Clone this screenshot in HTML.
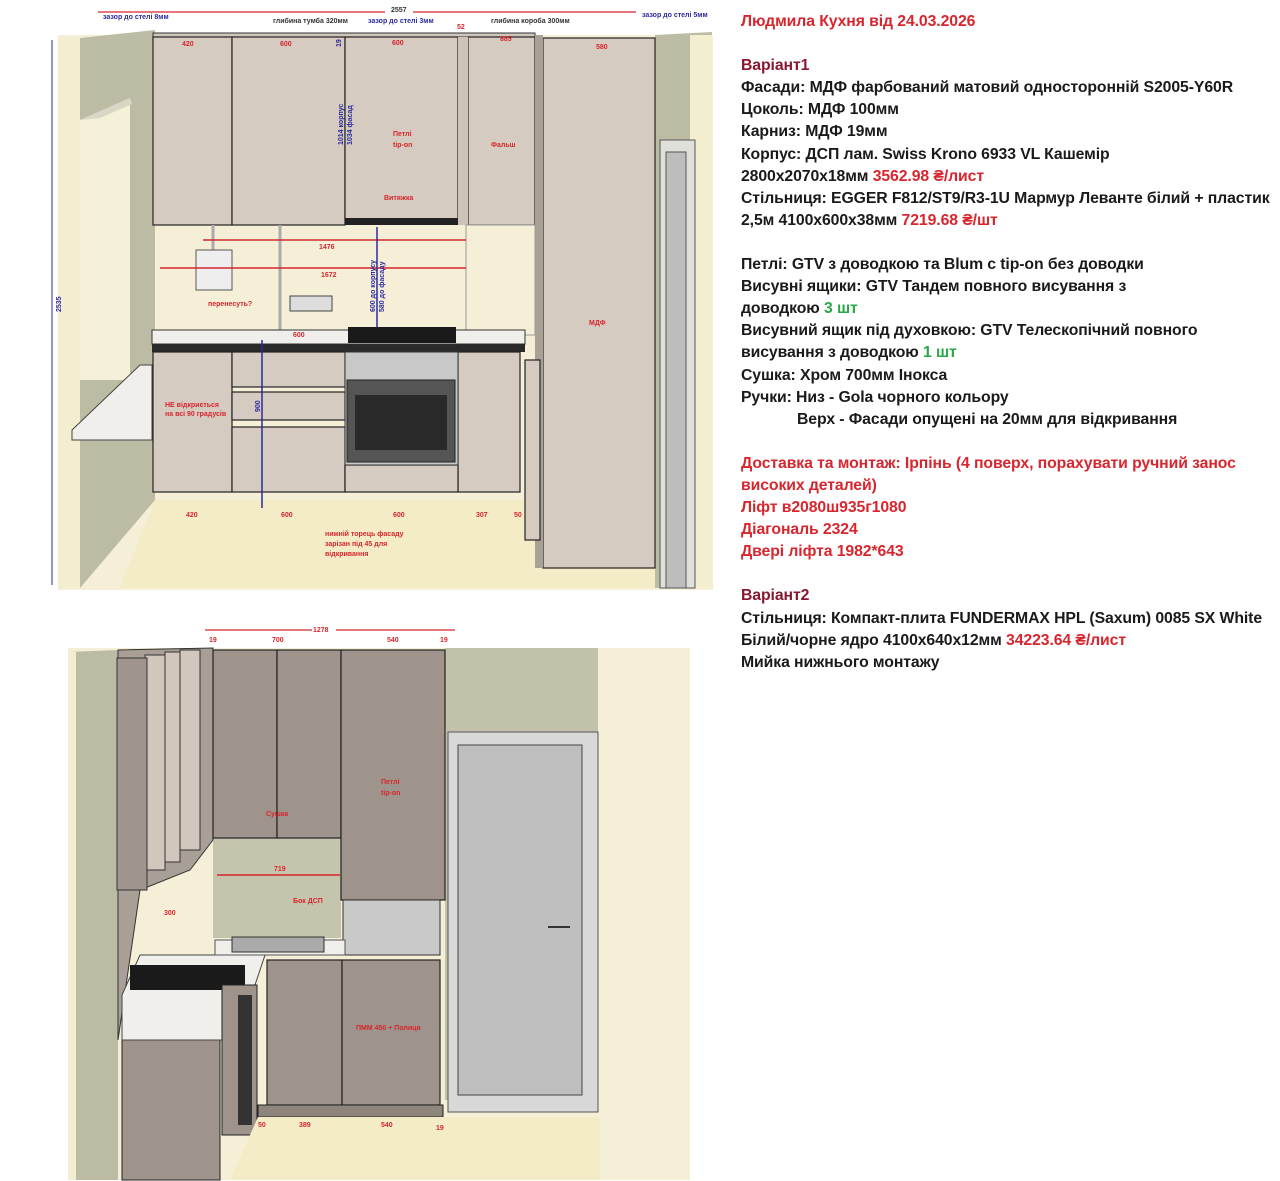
<!DOCTYPE html>
<html><head><meta charset="utf-8"><style>
body{margin:0;background:#fff;width:1280px;height:1181px;overflow:hidden;position:relative;font-family:"Liberation Sans",sans-serif}
#t{position:absolute;left:741px;top:11px;font-weight:bold;font-size:15.8px;line-height:22.1px;color:#1a1a1a;white-space:nowrap;letter-spacing:-0.1px}
.r{color:#d7262e}.d{color:#8a1730}.g{color:#2aa84a}
</style></head><body>
<svg width="730" height="1181" style="position:absolute;left:0;top:0" font-family="Liberation Sans,sans-serif" font-weight="bold">
<rect x="58" y="35" width="655" height="555" fill="#f4efd6"/>
<polygon points="80,38 155,30 155,500 80,588" fill="#bcbca4"/>
<polygon points="58,38 80,38 80,588 58,588" fill="#f3eed0"/>
<polygon points="80,120 130,98 130,380 80,380" fill="#f5f0d8"/>
<polygon points="80,120 130,98 132,104 100,118" fill="#d8d6c4"/>
<rect x="155" y="225" width="385" height="275" fill="#f5efd8"/>
<polygon points="155,500 540,500 540,568 655,568 655,588 120,588" fill="#f3ecc6"/>
<polygon points="655,35 712,32 712,588 655,588" fill="#bcbca4"/>
<rect x="690" y="35" width="22" height="553" fill="#f3eed0"/>
<rect x="660" y="140" width="35" height="448" fill="#e0e0da" stroke="#555"/>
<rect x="666" y="152" width="20" height="436" fill="#bdbdbd" stroke="#555"/>
<rect x="153" y="33" width="382" height="4" fill="#cfc6bc" stroke="#333"/>
<g fill="#d6cbc0" stroke="#222" stroke-width="1.2">
<rect x="153" y="37" width="79" height="188"/>
<rect x="232" y="37" width="113" height="188"/>
<rect x="345" y="37" width="113" height="182"/>
<rect x="468" y="37" width="67" height="188"/>
<rect x="543" y="38" width="112" height="530"/>
</g>
<rect x="345" y="218" width="113" height="7" fill="#222"/>
<rect x="458" y="37" width="10" height="188" fill="#cdc3b8"/>
<rect x="535" y="35" width="8" height="533" fill="#a9a196"/>
<rect x="466" y="225" width="69" height="110" fill="#f5efd8" stroke="#999"/>
<line x1="213" y1="225" x2="213" y2="250" stroke="#aaa" stroke-width="3"/>
<line x1="280" y1="225" x2="280" y2="330" stroke="#aaa" stroke-width="3"/>
<rect x="196" y="250" width="36" height="40" fill="#eee" stroke="#555"/>
<rect x="290" y="296" width="42" height="15" fill="#ddd" stroke="#444"/>
<line x1="203" y1="240" x2="466" y2="240" stroke="#d7262e" stroke-width="1.5"/>
<line x1="160" y1="268" x2="466" y2="268" stroke="#d7262e" stroke-width="1.5"/>
<line x1="377" y1="227" x2="377" y2="330" stroke="#2a2aa0" stroke-width="1.5"/>
<rect x="152" y="330" width="373" height="14" fill="#f0efec" stroke="#333"/>
<rect x="152" y="344" width="373" height="8" fill="#2a2a2a"/>
<rect x="348" y="327" width="108" height="16" fill="#1a1a1a"/>
<polygon points="72,430 140,365 152,365 152,440 72,440" fill="#f0efec" stroke="#444"/>
<g fill="#d6cbc0" stroke="#222" stroke-width="1.2">
<rect x="153" y="352" width="79" height="140"/>
<rect x="232" y="352" width="113" height="35"/>
<rect x="232" y="392" width="113" height="28"/>
<rect x="232" y="427" width="113" height="65"/>
<rect x="458" y="352" width="62" height="140"/>
<rect x="345" y="465" width="113" height="27"/>
<rect x="525" y="360" width="15" height="180"/>
</g>
<rect x="345" y="352" width="113" height="113" fill="#c8c8c8" stroke="#333"/>
<rect x="347" y="380" width="108" height="82" fill="#555" stroke="#222"/>
<rect x="355" y="395" width="92" height="55" fill="#2a2a2a"/>
<line x1="262" y1="340" x2="262" y2="508" stroke="#2a2aa0" stroke-width="1.5"/>
<line x1="98" y1="12" x2="636" y2="12" stroke="#d7262e" stroke-width="1.2"/>
<rect x="385" y="5" width="28" height="12" fill="#fff"/>
<line x1="52" y1="40" x2="52" y2="585" stroke="#2a2aa0" stroke-width="1"/>
<g font-size="7" fill="#2a2aa0">
<text x="103" y="19">зазор до стелі 8мм</text><text x="368" y="23">зазор до стелі 3мм</text><text x="642" y="17">зазор до стелі 5мм</text>
<text x="61" y="312" transform="rotate(-90 61 312)">2535</text>
<text x="343" y="145" transform="rotate(-90 343 145)">1014 корпус</text><text x="352" y="145" transform="rotate(-90 352 145)">1034 фасад</text>
<text x="341" y="47" transform="rotate(-90 341 47)">19</text>
<text x="375" y="312" transform="rotate(-90 375 312)">600 до корпусу</text><text x="384" y="312" transform="rotate(-90 384 312)">580 до фасаду</text>
<text x="260" y="412" transform="rotate(-90 260 412)">900</text>
<text x="355" y="923" transform="rotate(-90 355 923)">300</text>
</g>
<g font-size="7" fill="#333"><text x="391" y="12">2557</text><text x="273" y="23">глибина тумба 320мм</text><text x="491" y="23">глибина короба 300мм</text></g>
<g font-size="7" fill="#d7262e">
<text x="182" y="46">420</text><text x="280" y="46">600</text><text x="392" y="45">600</text><text x="457" y="29">52</text><text x="500" y="41">885</text><text x="596" y="49">580</text>
<text x="393" y="136">Петлі</text><text x="393" y="147">tip-on</text><text x="384" y="200">Витяжка</text><text x="491" y="147">Фальш</text>
<text x="319" y="249">1476</text><text x="321" y="277">1672</text><text x="208" y="306">перенесуть?</text><text x="293" y="337">600</text>
<text x="589" y="325">МДФ</text><text x="165" y="407">НЕ відкриється</text><text x="165" y="416">на всі 90 градусів</text>
<text x="186" y="517">420</text><text x="281" y="517">600</text><text x="393" y="517">600</text><text x="476" y="517">307</text><text x="514" y="517">50</text>
<text x="325" y="536">нижній торець фасаду</text><text x="325" y="546">зарізан під 45 для</text><text x="325" y="556">відкривання</text>
</g>
<rect x="68" y="648" width="622" height="532" fill="#f4efd6"/>
<polygon points="68,652 118,650 118,1180 68,1180" fill="#bcbca4"/>
<rect x="68" y="652" width="8" height="528" fill="#f3eed0"/>
<polygon points="445,648 598,648 598,1100 445,1100" fill="#c2c2ab"/>
<polygon points="598,648 690,652 690,1180 598,1180" fill="#f4efd6"/>
<rect x="448" y="732" width="150" height="380" fill="#d8d8d8" stroke="#555"/>
<rect x="458" y="745" width="124" height="350" fill="#bfbfbf" stroke="#444"/>
<line x1="548" y1="927" x2="570" y2="927" stroke="#333" stroke-width="2"/>
<rect x="213" y="838" width="128" height="100" fill="#c5c5ae"/>
<line x1="217" y1="875" x2="340" y2="875" stroke="#d7262e" stroke-width="1.5"/>
<polygon points="118,650 213,648 213,840 190,870 140,890 118,1040" fill="#a89f96" stroke="#333"/>
<g fill="#d2c7bc" stroke="#333"><rect x="145" y="655" width="20" height="215"/><rect x="165" y="652" width="15" height="210"/><rect x="180" y="650" width="20" height="200"/></g>
<rect x="117" y="658" width="30" height="232" fill="#9f958c" stroke="#333"/>
<g fill="#9e948b" stroke="#222" stroke-width="1.2">
<rect x="213" y="650" width="64" height="188"/><rect x="277" y="650" width="64" height="188"/>
<rect x="341" y="650" width="104" height="250"/>
<rect x="267" y="960" width="75" height="145"/><rect x="342" y="960" width="98" height="145"/>
</g>
<rect x="343" y="900" width="97" height="55" fill="#c9c9c9" stroke="#333"/>
<polygon points="122,1040 220,1040 220,1180 122,1180" fill="#9e948b" stroke="#222"/>
<polygon points="140,955 265,955 255,985 240,1040 122,1040 122,995" fill="#f0efec" stroke="#444"/>
<rect x="130" y="965" width="115" height="25" fill="#1a1a1a"/>
<polygon points="215,940 345,940 345,955 215,955" fill="#f0efec" stroke="#555"/>
<rect x="232" y="937" width="92" height="15" fill="#aaa" stroke="#333"/>
<rect x="222" y="985" width="35" height="150" fill="#9e948b" stroke="#222"/>
<rect x="238" y="995" width="14" height="130" fill="#333"/>
<rect x="258" y="1105" width="185" height="12" fill="#8e857c" stroke="#222"/>
<polygon points="258,1117 600,1117 600,1180 230,1180" fill="#f3ecc6"/>
<line x1="205" y1="630" x2="455" y2="630" stroke="#d7262e" stroke-width="1.2"/>
<rect x="312" y="624" width="24" height="12" fill="#fff"/>
<g font-size="7" fill="#d7262e">
<text x="313" y="632">1278</text><text x="209" y="642">19</text><text x="272" y="642">700</text><text x="387" y="642">540</text><text x="440" y="642">19</text>
<text x="381" y="784">Петлі</text><text x="381" y="795">tip-on</text><text x="266" y="816">Сушка</text><text x="274" y="871">719</text><text x="293" y="903">Бок ДСП</text>
<text x="164" y="915">300</text><text x="356" y="1030">ПММ 450 + Полиця</text>
<text x="258" y="1127">50</text><text x="299" y="1127">389</text><text x="381" y="1127">540</text><text x="436" y="1130">19</text>
</g>
</svg>
<div id="t">
<div class="r">Людмила Кухня від 24.03.2026</div><br>
<div class="d">Варіант1</div>
<div>Фасади: МДФ фарбований матовий односторонній S2005-Y60R</div>
<div>Цоколь: МДФ 100мм</div>
<div>Карниз: МДФ 19мм</div>
<div>Корпус: ДСП лам. Swiss Krono 6933 VL Кашемір</div>
<div>2800x2070x18мм <span class="r">3562.98 ₴/лист</span></div>
<div>Стільниця: EGGER F812/ST9/R3-1U Мармур Леванте білий + пластик</div>
<div>2,5м 4100x600x38мм <span class="r">7219.68 ₴/шт</span></div><br>
<div>Петлі: GTV з доводкою та Blum с tip-on без доводки</div>
<div>Висувні ящики: GTV Тандем повного висування з</div>
<div>доводкою <span class="g">3 шт</span></div>
<div>Висувний ящик під духовкою: GTV Телескопічний повного</div>
<div>висування з доводкою <span class="g">1 шт</span></div>
<div>Сушка: Хром 700мм Інокса</div>
<div>Ручки: Низ - Gola чорного кольору</div>
<div style="padding-left:56px">Верх - Фасади опущені на 20мм для відкривання</div><br>
<div class="r">Доставка та монтаж: Ірпінь (4 поверх, порахувати ручний занос</div>
<div class="r">високих деталей)</div>
<div class="r">Ліфт в2080ш935г1080</div>
<div class="r">Діагональ 2324</div>
<div class="r">Двері ліфта 1982*643</div><br>
<div class="d">Варіант2</div>
<div>Стільниця: Компакт-плита FUNDERMAX HPL (Saxum) 0085 SX White</div>
<div>Білий/чорне ядро 4100x640x12мм <span class="r">34223.64 ₴/лист</span></div>
<div>Мийка нижнього монтажу</div>
</div>
</body></html>
